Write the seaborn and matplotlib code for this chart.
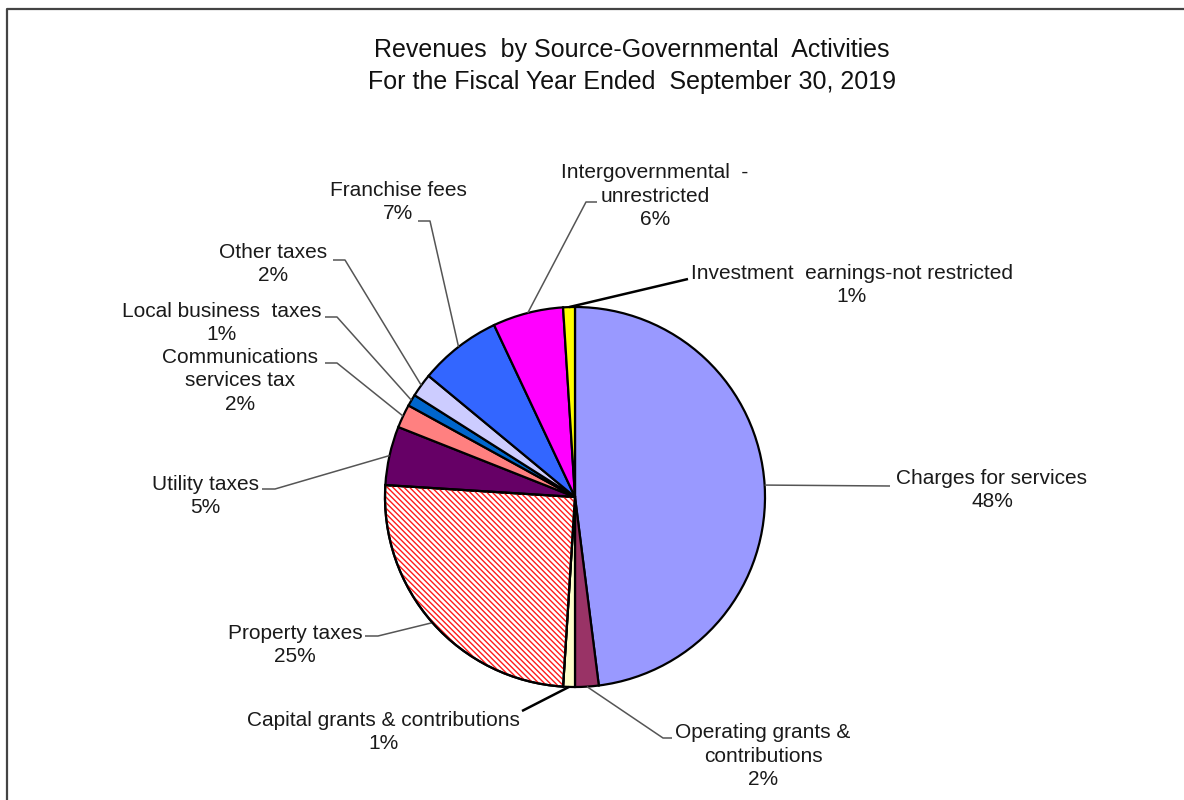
import numpy as np
import matplotlib
matplotlib.use("Agg")
import matplotlib.pyplot as plt
from matplotlib.patches import Wedge
import seaborn as sns

# Revenue sources, percentage of total (clockwise from 12 o'clock)
categories = [
    "Charges for services",
    "Operating grants &\ncontributions",
    "Capital grants & contributions",
    "Property taxes",
    "Utility taxes",
    "Communications\nservices tax",
    "Local business  taxes",
    "Other taxes",
    "Franchise fees",
    "Intergovernmental  -\nunrestricted",
    "Investment  earnings-not restricted",
]
shares = [48, 2, 1, 25, 5, 2, 1, 2, 7, 6, 1]
slice_colors = ["#9999FF", "#993366", "#FFFFCC", "#FFFFFF", "#660066", "#FF8080",
                "#0066CC", "#CCCCFF", "#3366FF", "#FF00FF", "#FFFF00"]

# Label placement in pixel space: text centre, leader elbow, end of horizontal tick
W, H = 1184, 800
label_layout = [
    dict(text=(992, 490), elbow=(890, 486), tick=None, dark=False),
    dict(text=(763, 756), elbow=(663, 738), tick=672, dark=False),
    dict(text=(383, 732), elbow=(522, 711), tick=None, dark=True),
    dict(text=(295, 645), elbow=(378, 636), tick=365, dark=False),
    dict(text=(205, 496), elbow=(275, 489), tick=262, dark=False),
    dict(text=(240, 381), elbow=(337, 363), tick=325, dark=False),
    dict(text=(222, 323), elbow=(337, 317), tick=325, dark=False),
    dict(text=(273, 264), elbow=(345, 260), tick=333, dark=False),
    dict(text=(398, 202), elbow=(430, 221), tick=418, dark=False),
    dict(text=(655, 196), elbow=(586, 202), tick=597, dark=False),
    dict(text=(852, 285), elbow=(688, 279), tick=None, dark=True),
]

sns.set_theme(style="white")
plt.rcParams["font.family"] = ["Liberation Sans", "DejaVu Sans"]
plt.rcParams["hatch.linewidth"] = 1.0


def P(x, y):
    """Pixel position (origin top-left) to data coordinates."""
    return x, H - y


fig = plt.figure(figsize=(W / 100, H / 100), dpi=100)
ax = fig.add_axes([0, 0, 1, 1])

center = P(575, 497)
radius = 190
wedges, _ = ax.pie(
    shares,
    colors=slice_colors,
    startangle=90,
    counterclock=False,
    center=center,
    radius=radius,
    frame=True,
    wedgeprops=dict(edgecolor="black", linewidth=1.6),
)

# Property taxes: red diagonal hatching on white
prop = wedges[3]
hatch = Wedge(prop.center, prop.r, prop.theta1, prop.theta2, facecolor="none",
              edgecolor="#FF1A1A", hatch="\\" * 6, linewidth=0, zorder=prop.get_zorder() + 0.1)
ax.add_patch(hatch)
outline = Wedge(prop.center, prop.r, prop.theta1, prop.theta2, facecolor="none",
                edgecolor="black", linewidth=1.6, zorder=prop.get_zorder() + 0.2)
ax.add_patch(outline)

# Labels with leader lines anchored on each slice's mid-angle
for w, name, val, lay in zip(wedges, categories, shares, label_layout):
    mid = np.deg2rad((w.theta1 + w.theta2) / 2)
    ax_pt = (center[0] + radius * np.cos(mid), center[1] + radius * np.sin(mid))
    ex, ey = P(*lay["elbow"])
    xs, ys = [ax_pt[0], ex], [ax_pt[1], ey]
    if lay["tick"] is not None:
        xs.append(lay["tick"])
        ys.append(ey)
    color, lw = ("black", 1.8) if lay["dark"] else ("#555555", 1.1)
    ax.plot(xs, ys, color=color, lw=lw, solid_capstyle="butt", zorder=1)
    tx, ty = P(*lay["text"])
    ax.text(tx, ty, f"{name}\n{val}%", ha="center", va="center", fontsize=15,
            color="#1a1a1a", linespacing=1.32)

# Title
tx, ty = P(632, 66)
ax.text(tx, ty, "Revenues  by Source-Governmental  Activities\nFor the Fiscal Year Ended  September 30, 2019",
        ha="center", va="center", fontsize=18, color="#111111", linespacing=1.45)

# Partial frame along the top and left edges
ax.plot([6.5, 6.5, W], [0, H - 9, H - 9], color="#444444", lw=1.6, zorder=5)

ax.set_xlim(0, W)
ax.set_ylim(0, H)
ax.set_aspect("equal", adjustable="box")
ax.axis("off")

fig.savefig("out.png", dpi=100, facecolor="white")
